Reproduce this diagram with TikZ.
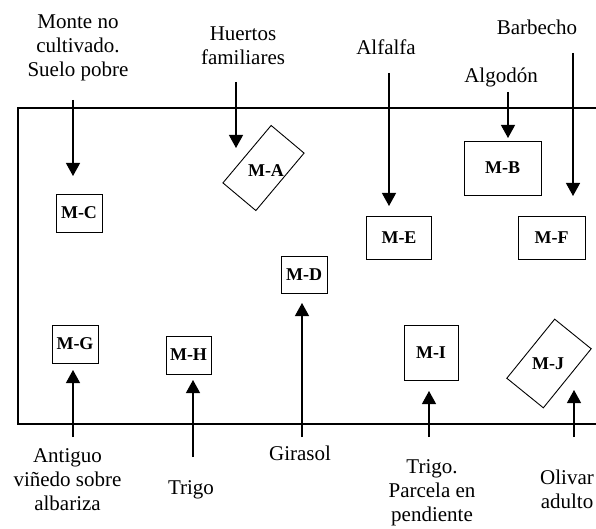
\documentclass[tikz,border=0pt]{standalone}
\usepackage{fontspec}
\setmainfont{Liberation Serif}
\usetikzlibrary{arrows.meta}

\begin{document}
\begin{tikzpicture}[x=1pt,y=-1pt]
  \tikzset{box/.style = {shape=rectangle,draw,line width=0.9pt,inner sep=0pt,
      font=\fontsize{18}{20}\selectfont\bfseries}}
  \tikzset{lbl/.style = {align=center,inner sep=0pt,font=\fontsize{21}{24}\selectfont}}
  \tikzset{line/.style={draw, line width=1.2pt, -{Triangle[length=13pt,width=14pt]}}}

  \useasboundingbox (0,0) rectangle (596,529);
  \draw[line width=1.3pt] (596,108) -- (18,108) -- (18,424) -- (596,424);

  %%%%%%%%%%%% upper row

  \node[lbl] (monte) at (78,48) {Monte no\\cultivado.\\Suelo pobre};
  \node[box, minimum width=46pt, minimum height=38pt] (mc) at (79,213) {M-C};
  \coordinate (monte-a) at (73,100);
  \coordinate (mc-a) at (73,176);
  \path (monte-a) edge[line] (mc-a);

  \node[lbl] (huertos) at (243,46) {Huertos\\familiares};
  \node[draw, line width=0.9pt, rotate=50, minimum width=75pt,
  minimum height=43pt] (ma) at (263.5,168) {};
  \node[box, draw=none] (ma-t) at (266,171) {M-A};
  \coordinate (huertos-a) at (236,82);
  \coordinate (ma-a) at (236,148);
  \path (huertos-a) edge[line] (ma-a);

  \node[lbl] (alfalfa) at (386,47) {Alfalfa};
  \node[box, minimum width=65pt, minimum height=43pt] (me) at (399,238) {M-E};
  \coordinate (alfalfa-a) at (389,73);
  \coordinate (me-a) at (389,206);
  \path (alfalfa-a) edge[line] (me-a);

  \node[lbl] (algodon) at (501,77) {Algodón};
  \node[box, minimum width=77pt, minimum height=54pt] (mb) at (502.5,168) {M-B};
  \coordinate (algodon-a) at (508,92);
  \coordinate (mb-a) at (508,138);
  \path (algodon-a) edge[line] (mb-a);

  \node[lbl] (barbecho) at (537,27) {Barbecho};
  \node[box, minimum width=67pt, minimum height=43pt] (mf) at (551.5,238) {M-F};
  \coordinate (barbecho-a) at (573,53);
  \coordinate (mf-a) at (573,196);
  \path (barbecho-a) edge[line] (mf-a);

  %%%%%%%%%%%% lower row

  \node[lbl] (antiguo) at (67.5,480) {Antiguo\\viñedo sobre\\albariza};
  \node[box, minimum width=46pt, minimum height=38pt] (mg) at (75,344) {M-G};
  \coordinate (antiguo-a) at (73,437);
  \coordinate (mg-a) at (73,370);
  \path (antiguo-a) edge[line] (mg-a);

  \node[lbl] (trigo) at (191,490) {Trigo};
  \node[box, minimum width=45pt, minimum height=38pt] (mh) at (188.5,355) {M-H};
  \coordinate (trigo-a) at (193,457);
  \coordinate (mh-a) at (193,380);
  \path (trigo-a) edge[line] (mh-a);

  \node[lbl] (girasol) at (300,453) {Girasol};
  \node[box, minimum width=46pt, minimum height=37pt] (md) at (304,274.5) {M-D};
  \coordinate (girasol-a) at (302,437);
  \coordinate (md-a) at (302,303);
  \path (girasol-a) edge[line] (md-a);

  \node[lbl] (pendiente) at (432,493) {Trigo.\\Parcela en\\pendiente};
  \node[box, minimum width=54pt, minimum height=55pt] (mi) at (431,352.5) {M-I};
  \coordinate (pendiente-a) at (429,437);
  \coordinate (mi-a) at (429,391);
  \path (pendiente-a) edge[line] (mi-a);

  \node[lbl] (olivar) at (567,489) {Olivar\\adulto};
  \node[draw, line width=0.9pt, rotate=51, minimum width=76pt,
  minimum height=47pt] (mj) at (549,363.5) {};
  \node[box, draw=none] (mj-t) at (548,364) {M-J};
  \coordinate (olivar-a) at (574,437);
  \coordinate (mj-a) at (574,390);
  \path (olivar-a) edge[line] (mj-a);

\end{tikzpicture}
\end{document}
